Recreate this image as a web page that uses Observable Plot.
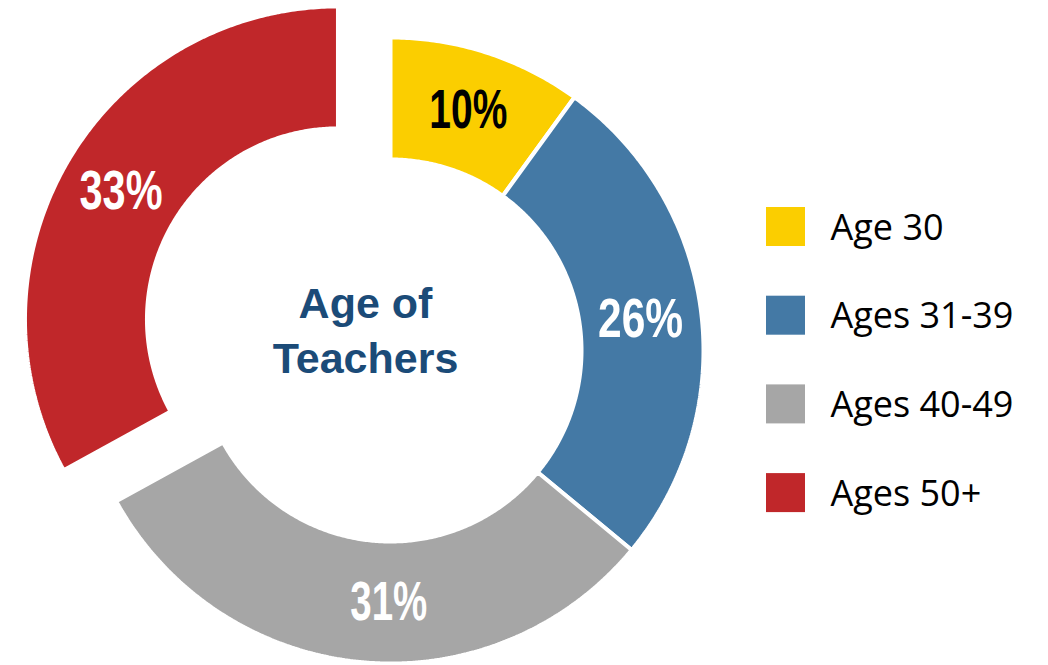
<!DOCTYPE html>
<html>
<head>
<meta charset="utf-8">
<script src="https://cdn.jsdelivr.net/npm/d3@7"></script>
<script src="https://cdn.jsdelivr.net/npm/@observablehq/plot@0.6"></script>
<style>
  html, body { margin: 0; padding: 0; background: #fff; }
  #chart { width: 1048px; height: 665px; }
</style>
</head>
<body>
<div id="chart"></div>
<script>
// ---- data ----
const ages = ["Age 30", "Ages 31-39", "Ages 40-49", "Ages 50+"];
const shares = [10, 26, 31, 33];
const labels = ["10%", "26%", "31%", "33%"];
const palette = ["#FBCE00", "#4479A5", "#A6A6A6", "#C0272A"];
const labelInk = ["#000000", "#ffffff", "#ffffff", "#ffffff"];
const exploded = ["Ages 50+"];
const centerTitle = ["Age of", "Teachers"];

// ---- layout (pixels) ----
const W = 1048, H = 665;
const CX = 390, CY = 350, R = 313;       // donut centre and outer radius
const INNER = 191 / 313;                  // inner radius, as share of outer
const EXPLODE = 0.195;                    // offset of exploded slice
const LABEL_R = (1 + INNER) / 2;
const labelNudgeDeg = [0, 0, -5, 0];
const labelWidth = {"10%": 78, "26%": 85, "31%": 77, "33%": 83}; // narrow face emulation

// pixel -> data units
const ux = px => (px - CX) / R;
const uy = py => (CY - py) / R;

const total = d3.sum(shares);
let cum = 0;
const slices = ages.map((age, i) => {
  const a0 = cum / total * 360;
  cum += shares[i];
  const a1 = cum / total * 360;
  const mid = (a0 + a1) / 2;
  const rad = mid * Math.PI / 180;
  const off = exploded.includes(age) ? EXPLODE : 0;
  return {age, share: shares[i], a0, a1, mid, ox: off * Math.sin(rad), oy: off * Math.cos(rad), i};
});

// polygon outline of each ring sector, traced along its arcs
function sectorPoints(s) {
  const pts = [];
  const n = Math.max(8, Math.ceil((s.a1 - s.a0) * 2));
  for (let k = 0; k <= n; k++) {
    const t = (s.a0 + (s.a1 - s.a0) * k / n) * Math.PI / 180;
    pts.push({age: s.age, x: s.ox + Math.sin(t), y: s.oy + Math.cos(t)});
  }
  for (let k = n; k >= 0; k--) {
    const t = (s.a0 + (s.a1 - s.a0) * k / n) * Math.PI / 180;
    pts.push({age: s.age, x: s.ox + INNER * Math.sin(t), y: s.oy + INNER * Math.cos(t)});
  }
  pts.push(pts[0]);
  return pts;
}

const sliceMarks = slices.map(s => Plot.line(sectorPoints(s), {
  x: "x", y: "y", fill: palette[s.i], stroke: "#fff", strokeWidth: 4, strokeLinejoin: "miter", curve: "linear"
}));

const pctLabels = slices.map(s => {
  const t = (s.mid + labelNudgeDeg[s.i]) * Math.PI / 180;
  return {text: labels[s.i], x: s.ox + LABEL_R * Math.sin(t), y: s.oy + LABEL_R * Math.cos(t), ink: labelInk[s.i]};
});

const legendRows = ages.map((age, i) => ({age, color: palette[i], row: i}));
const LEG_X = 766, LEG_Y0 = 207, LEG_STEP = 88.7, SQ = 39, LEG_TX = 830;

const plot = Plot.plot({
  width: W, height: H,
  margin: 0,
  x: {domain: [ux(0), ux(W)], axis: null},
  y: {domain: [uy(H), uy(0)], axis: null},
  marks: [
    ...sliceMarks,
    Plot.text(pctLabels, {
      x: "x", y: "y", text: "text", fill: "ink",
      fontFamily: "'Liberation Sans', Arial, sans-serif",
      fontWeight: "bold", fontSize: 55, textAnchor: "middle", lineAnchor: "middle"
    }),
    Plot.text(centerTitle, {
      x: () => ux(365), y: (d, i) => uy(304 + i * 55), text: d => d,
      fill: "#1B4B78", fontFamily: "'Liberation Sans', Arial, sans-serif",
      fontWeight: "bold", fontSize: 43, textAnchor: "middle", lineAnchor: "middle"
    }),
    Plot.rect(legendRows, {
      x1: () => ux(LEG_X), x2: () => ux(LEG_X + SQ),
      y1: d => uy(LEG_Y0 + d.row * LEG_STEP), y2: d => uy(LEG_Y0 + d.row * LEG_STEP + SQ),
      fill: "color"
    }),
    Plot.text(legendRows, {
      x: () => ux(LEG_TX), y: d => uy(LEG_Y0 + d.row * LEG_STEP + SQ / 2 + 1), text: "age",
      fill: "#000", fontFamily: "'Open Sans', 'Noto Sans', sans-serif",
      fontSize: 36, textAnchor: "start", lineAnchor: "middle"
    })
  ]
});
// condense the percentage labels to match the narrow bold face of the original
d3.select(plot).selectAll("text").each(function () {
  const t = this.textContent;
  if (labelWidth[t]) {
    this.setAttribute("textLength", labelWidth[t]);
    this.setAttribute("lengthAdjust", "spacingAndGlyphs");
  }
});
document.getElementById("chart").appendChild(plot);
</script>
</body>
</html>
